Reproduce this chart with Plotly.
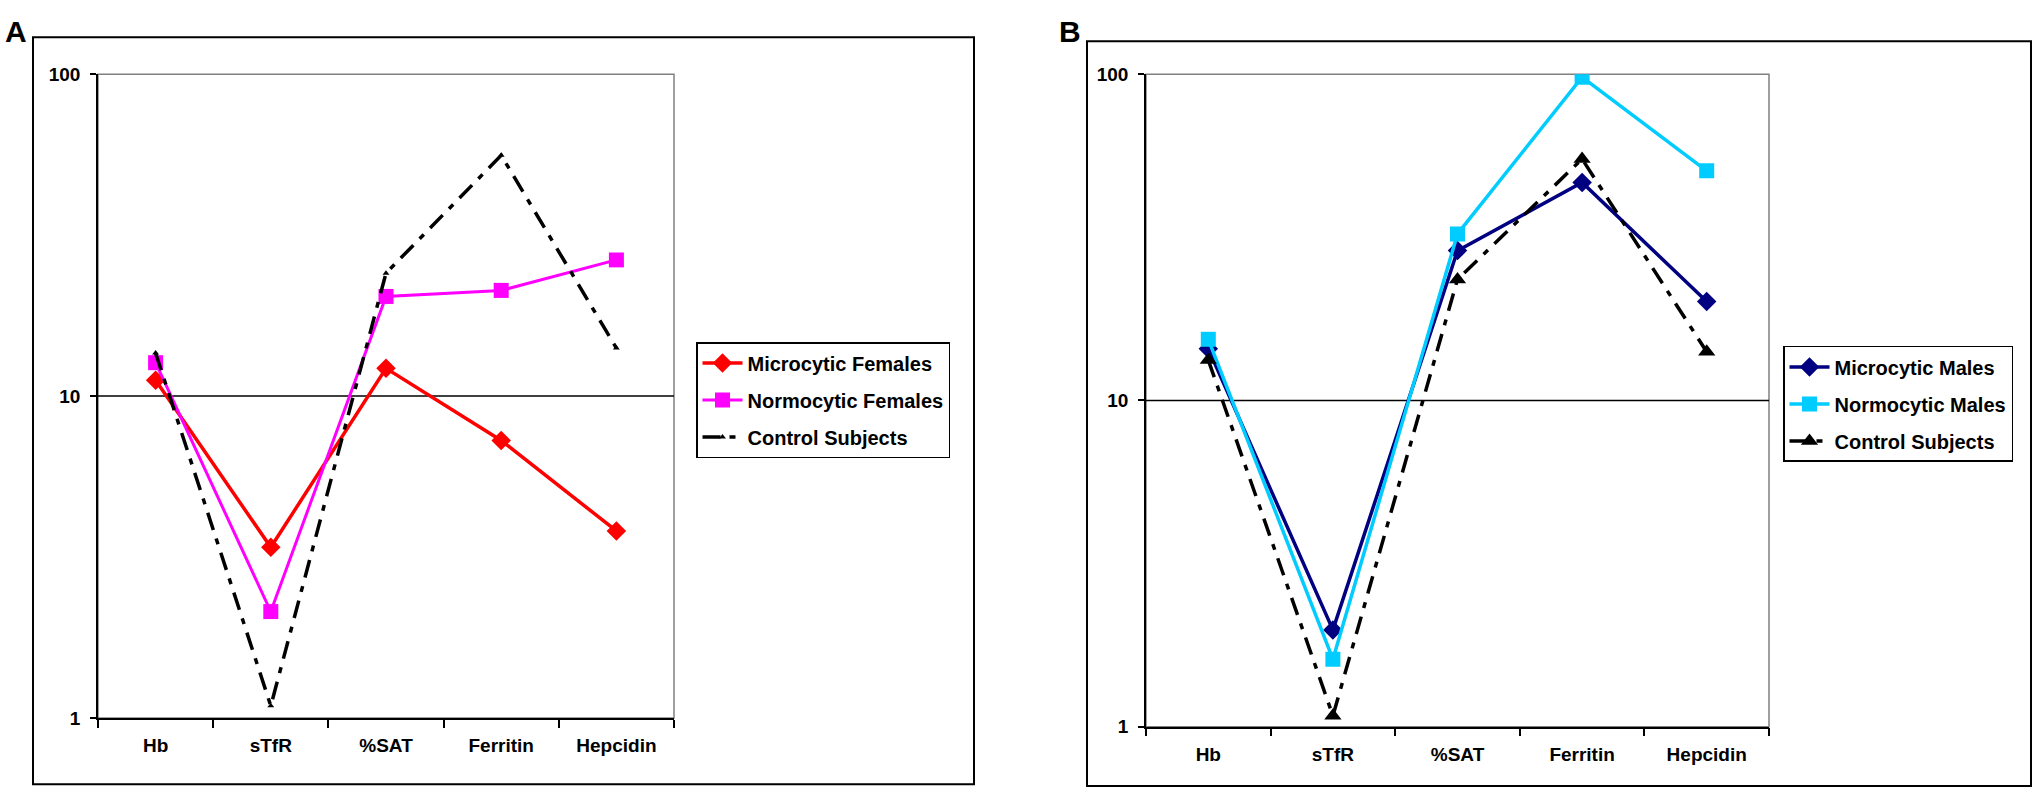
import plotly.graph_objects as go

W, H = 2033, 800

categorias = ["Hb", "sTfR", "%SAT", "Ferritin", "Hepcidin"]

# painel A - mulheres
micro_fem = [11.2, 3.39, 12.2, 7.28, 3.81]
normo_fem = [12.7, 2.14, 20.4, 21.3, 26.5]
controle_a = [13.6, 1.09, 24.1, 56.0, 14.1]

# painel B - homens
micro_masc = [14.4, 1.98, 28.8, 46.6, 20.1]
normo_masc = [15.4, 1.61, 32.4, 98.0, 50.6]
controle_b = [13.3, 1.08, 23.5, 55.0, 14.1]

y_ticks = [1, 10, 100]


def px_x(v):
    return v / W


def px_y(v):
    return 1 - v / H


FONTE = "Liberation Sans, Arial, sans-serif"
TRACO = "18px,9px,6px,9px"

fig = go.Figure()

# Painel A
fig.add_trace(go.Scatter(x=categorias, y=micro_fem, name="Microcytic Females", mode="lines+markers",
                         line=dict(color="#FF0000", width=3.5),
                         marker=dict(symbol="diamond", size=15, color="#FF0000"),
                         xaxis="x", yaxis="y", legend="legend", legendgroup="a1"))
fig.add_trace(go.Scatter(x=categorias, y=normo_fem, name="Normocytic Females", mode="lines+markers",
                         line=dict(color="#FF00FF", width=3),
                         marker=dict(symbol="square", size=15, color="#FF00FF"),
                         xaxis="x", yaxis="y", legend="legend", legendgroup="a2"))
fig.add_trace(go.Scatter(x=categorias, y=controle_a, name="Control Subjects", mode="lines+markers",
                         line=dict(color="black", width=3.5, dash=TRACO),
                         marker=dict(symbol="triangle-up", size=6, color="black"),
                         xaxis="x", yaxis="y", legend="legend", legendgroup="a3"))

# Painel B
fig.add_trace(go.Scatter(x=categorias, y=micro_masc, name="Microcytic Males", mode="lines+markers",
                         line=dict(color="#000080", width=3.5),
                         marker=dict(symbol="diamond", size=15, color="#000080"),
                         xaxis="x2", yaxis="y2", legend="legend2", legendgroup="b1"))
fig.add_trace(go.Scatter(x=categorias, y=normo_masc, name="Normocytic Males", mode="lines+markers",
                         line=dict(color="#00CCFF", width=3.5),
                         marker=dict(symbol="square", size=15, color="#00CCFF"),
                         xaxis="x2", yaxis="y2", legend="legend2", legendgroup="b2"))
fig.add_trace(go.Scatter(x=categorias, y=controle_b, name="Control Subjects", mode="lines+markers",
                         line=dict(color="black", width=3.5, dash=TRACO),
                         marker=dict(symbol="triangle-up", size=15, color="black"),
                         xaxis="x2", yaxis="y2", legend="legend2", legendgroup="b3"))

eixo_x = dict(type="category", range=[-0.5, 4.5], showline=True, linecolor="black", linewidth=1.5,
              ticks="outside", tickson="boundaries", ticklen=8, tickcolor="black", tickwidth=1.5,
              showgrid=False, zeroline=False, ticklabelstandoff=10,
              tickfont=dict(family=FONTE, size=19, color="black", weight="bold"))
eixo_y = dict(type="log", range=[0, 2], tickvals=y_ticks, ticktext=[str(v) for v in y_ticks],
              showline=True, linecolor="black", linewidth=1.5, ticks="outside", ticklen=6,
              tickcolor="black", tickwidth=1.5, showgrid=False, zeroline=False, ticklabelstandoff=6,
              tickfont=dict(family=FONTE, size=19, color="black", weight="bold"))

fonte_legenda = dict(family=FONTE, size=20, color="black", weight="bold")

fig.update_layout(
    width=W, height=H,
    margin=dict(l=0, r=0, t=0, b=0),
    paper_bgcolor="white", plot_bgcolor="white",
    xaxis=dict(eixo_x, domain=[px_x(98), px_x(674)], anchor="y"),
    yaxis=dict(eixo_y, domain=[px_y(727), px_y(66)], anchor="x"),
    xaxis2=dict(eixo_x, domain=[px_x(1146), px_x(1769)], anchor="y2"),
    yaxis2=dict(eixo_y, domain=[px_y(736), px_y(66)], anchor="x2"),
    legend=dict(x=px_x(696), y=px_y(341), xanchor="left", yanchor="top",
                bordercolor="black", borderwidth=1.5, font=fonte_legenda,
                tracegroupgap=8, itemwidth=40),
    legend2=dict(x=px_x(1783), y=px_y(345), xanchor="left", yanchor="top",
                 bordercolor="black", borderwidth=1.5, font=fonte_legenda,
                 tracegroupgap=8, itemwidth=40),
    showlegend=True,
)

# bordas cinzas das areas de plotagem e linha de grade em 10
for xr, yr in [("x", "y"), ("x2", "y2")]:
    fig.add_shape(type="rect", xref=f"{xr} domain", yref=f"{yr} domain", x0=0, x1=1, y0=0, y1=1,
                  line=dict(color="#808080", width=1.5), layer="below")
    fig.add_shape(type="line", xref=f"{xr} domain", yref=yr, x0=0, x1=1, y0=10, y1=10,
                  line=dict(color="black", width=1.5), layer="below")

# caixas externas dos paineis
fig.add_shape(type="rect", xref="paper", yref="paper",
              x0=px_x(33), x1=px_x(974), y0=px_y(795), y1=px_y(28),
              line=dict(color="black", width=2))
fig.add_shape(type="rect", xref="paper", yref="paper",
              x0=px_x(1087), x1=px_x(2031), y0=px_y(797), y1=px_y(32),
              line=dict(color="black", width=2))

for letra, xc in [("A", 16), ("B", 1070)]:
    fig.add_annotation(text=letra, x=px_x(xc), y=px_y(22), xref="paper", yref="paper",
                       showarrow=False, xanchor="center", yanchor="middle",
                       font=dict(family=FONTE, size=30, color="black", weight="bold"))

fig.write_html("out.html", config={"displayModeBar": False},
               post_script="document.body.style.margin='0';")
